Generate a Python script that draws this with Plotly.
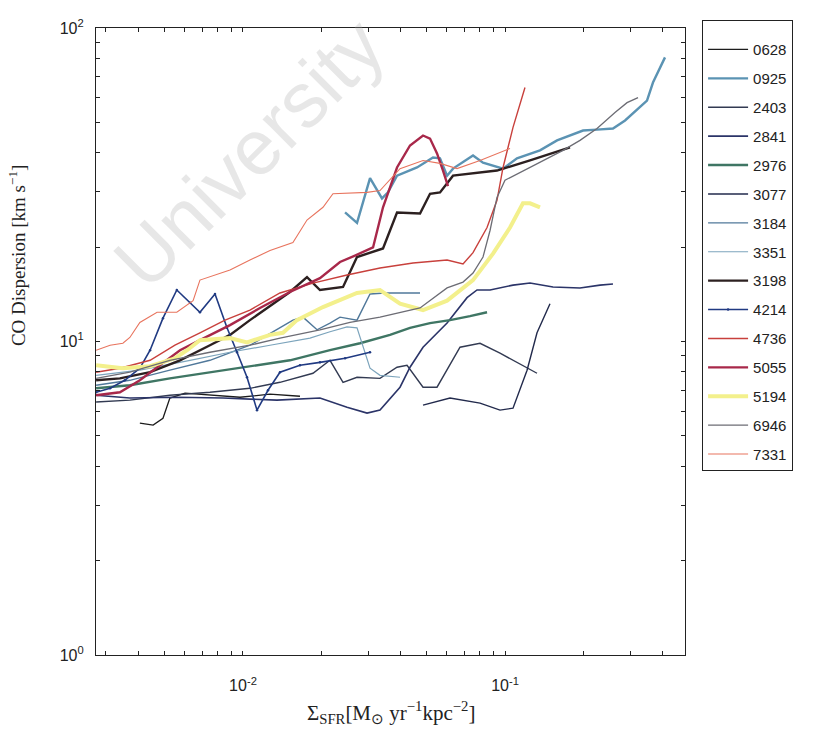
import plotly.graph_objects as go

# Galaxy IDs in legend order
galaxies = ["0628", "0925", "2403", "2841", "2976", "3077", "3184", "3351",
            "3198", "4214", "4736", "5055", "5194", "6946", "7331"]

# Star-formation-rate surface density [Msun yr^-1 kpc^-2] and CO dispersion [km/s]
sfr_0628 = [0.00404, 0.00454, 0.00495, 0.00526, 0.00601, 0.00748, 0.00974, 0.01268, 0.01650]
sig_0628 = [5.49, 5.41, 5.69, 6.60, 6.84, 6.74, 6.64, 6.79, 6.69]

sfr_0925 = [0.02452, 0.02724, 0.03054, 0.03393, 0.03576, 0.03872, 0.04616, 0.05312, 0.05649,
            0.0601, 0.06333, 0.0755, 0.08243, 0.0983, 0.1111, 0.1360, 0.1580, 0.1985,
            0.2245, 0.2583, 0.2872, 0.3275, 0.3483, 0.3671, 0.408]
sig_0925 = [25.8, 23.9, 33.2, 28.6, 29.9, 33.8, 35.9, 38.6, 38.4, 33.8, 35.6, 39.2, 37.2,
            35.6, 38.4, 40.7, 43.8, 47.1, 47.4, 47.8, 50.7, 55.8, 58.7, 67.0, 80.6]

sfr_2403 = [0.00275, 0.00370, 0.00526, 0.00748, 0.01063, 0.01384, 0.0185, 0.02148, 0.02409,
            0.02724, 0.03334, 0.03872, 0.04228, 0.04866, 0.05503, 0.06735, 0.08029, 0.0957, 0.1325]
sig_2403 = [6.41, 6.50, 6.74, 6.89, 7.09, 7.41, 7.92, 8.71, 7.41, 7.69, 7.63, 8.28, 8.40,
            7.15, 7.15, 9.59, 9.87, 9.18, 7.92]

sfr_2841 = [0.00275, 0.00370, 0.00559, 0.00839, 0.01348, 0.01967, 0.02495, 0.02975, 0.03334,
            0.03975, 0.04340, 0.04866, 0.0601, 0.07163, 0.0782, 0.08767, 0.1073, 0.1246,
            0.1525, 0.1933, 0.2305, 0.2583]
sig_2841 = [6.74, 6.60, 6.64, 6.60, 6.50, 6.60, 6.17, 5.91, 6.04, 7.15, 8.28, 9.59, 11.45,
            13.8, 14.6, 14.6, 15.13, 15.36, 14.93, 14.82, 15.13, 15.25]

sfr_2976 = [0.00275, 0.00370, 0.00526, 0.00748, 0.01063, 0.01511, 0.02148, 0.02797, 0.03640,
            0.04340, 0.05174, 0.06168, 0.07353, 0.0854]
sig_2976 = [7.09, 7.25, 7.63, 7.98, 8.34, 8.71, 9.38, 9.87, 10.5, 11.06, 11.45, 11.7, 12.05, 12.4]

sfr_3077 = [0.04866, 0.06168, 0.08029, 0.0957, 0.1073, 0.1214, 0.1325, 0.1485]
sig_3077 = [6.27, 6.60, 6.36, 6.04, 6.13, 8.10, 10.66, 13.2]

sfr_3184 = [0.00275, 0.00370, 0.00526, 0.00748, 0.01063, 0.01384, 0.01551, 0.01694, 0.01917,
            0.02148, 0.02346, 0.02724, 0.03054, 0.03484, 0.04739]
sig_3184 = [7.25, 7.52, 8.10, 8.71, 9.73, 11.06, 11.7, 11.96, 10.9, 11.45, 11.96, 11.7,
            14.18, 14.28, 14.28]

sfr_3351 = [0.00275, 0.00404, 0.00628, 0.00892, 0.01268, 0.01802, 0.02148, 0.02495, 0.02724,
            0.03054, 0.03334, 0.03975]
sig_3351 = [7.80, 8.10, 8.71, 9.24, 9.73, 10.25, 10.74, 11.14, 11.06, 8.22, 7.80, 7.69]

sfr_3198 = [0.00275, 0.00339, 0.00442, 0.00575, 0.00748, 0.00892, 0.01063, 0.01268, 0.01511,
            0.01755, 0.01967, 0.02409, 0.02724, 0.03423, 0.03872, 0.04739, 0.05174, 0.05649,
            0.06333, 0.0932, 0.1246, 0.1771]
sig_3198 = [7.52, 7.63, 7.98, 8.71, 9.73, 10.5, 11.7, 13.0, 14.39, 16.05, 14.6, 14.93, 18.6,
            19.8, 25.8, 25.6, 29.6, 29.9, 33.8, 35.1, 37.8, 41.6]

sfr_4214 = [0.00275, 0.00311, 0.00354, 0.00404, 0.00442, 0.00495, 0.00559, 0.00628, 0.00685,
            0.00782, 0.00869, 0.00949, 0.01036, 0.01131, 0.01246, 0.01384, 0.01650, 0.01967,
            0.02452, 0.03054]
sig_4214 = [6.89, 7.09, 7.52, 8.22, 9.38, 11.87, 14.6, 13.3, 12.4, 14.18, 11.06, 9.24, 7.69,
            6.04, 6.99, 7.98, 8.40, 8.58, 8.84, 9.24]

sfr_4736 = [0.00275, 0.00339, 0.00442, 0.00550, 0.00685, 0.00854, 0.01063, 0.01384, 0.0185,
            0.02495, 0.03334, 0.04456, 0.0601, 0.06915, 0.0755, 0.0854, 0.0932, 0.0983,
            0.1073, 0.1192]
sig_4736 = [7.98, 8.22, 8.71, 9.73, 10.66, 11.7, 12.6, 14.28, 15.36, 16.3, 17.15, 17.8, 18.2,
            17.67, 19.2, 23.1, 28.2, 35.9, 48.2, 64.6]

sfr_5055 = [0.00275, 0.00339, 0.00404, 0.00482, 0.00575, 0.00685, 0.00892, 0.01161, 0.01511,
            0.01967, 0.02346, 0.02676, 0.03136, 0.03423, 0.03872, 0.04340, 0.04866, 0.05174,
            0.05503, 0.0580, 0.0606]
sig_5055 = [6.74, 6.89, 7.52, 8.40, 9.38, 10.1, 11.28, 12.79, 14.39, 15.93, 17.93, 18.8,
            19.95, 26.8, 35.9, 42.2, 45.4, 44.4, 39.8, 35.1, 31.3]

sfr_5194 = [0.00275, 0.00348, 0.00442, 0.00550, 0.00612, 0.00685, 0.00892, 0.01036, 0.01268,
            0.01421, 0.01607, 0.02020, 0.02724, 0.03334, 0.03975, 0.04866, 0.0601, 0.0755,
            0.09001, 0.1045, 0.1171, 0.1246, 0.1360]
sig_5194 = [8.40, 8.22, 8.34, 8.84, 9.38, 10.1, 10.25, 9.94, 10.5, 10.66, 11.7, 12.88, 14.28,
            14.6, 13.2, 12.6, 13.5, 15.7, 19.07, 23.1, 27.6, 27.6, 26.8]

sfr_6946 = [0.00275, 0.00370, 0.00526, 0.00748, 0.01063, 0.01384, 0.01967, 0.02561, 0.03334,
            0.03975, 0.04739, 0.0601, 0.06915, 0.0755, 0.08243, 0.08767, 0.0932, 0.1000,
            0.1246, 0.1665, 0.1933, 0.2245, 0.2629, 0.2923, 0.3219]
sig_6946 = [7.63, 7.98, 8.71, 9.24, 9.73, 10.25, 10.9, 11.5, 11.96, 12.4, 12.79, 14.82, 15.47,
            16.53, 18.6, 22.6, 28.8, 32.7, 35.9, 40.7, 43.8, 47.8, 53.8, 57.8, 60.0]

sfr_7331 = [0.00275, 0.00311, 0.00348, 0.00370, 0.00404, 0.00470, 0.00559, 0.00645, 0.00685,
            0.00892, 0.01063, 0.01268, 0.01551, 0.01755, 0.02020, 0.02205, 0.02975, 0.03334,
            0.03975, 0.04866, 0.05649, 0.0656, 0.08029, 0.1045]
sig_7331 = [9.38, 9.73, 9.87, 10.3, 11.5, 12.4, 12.4, 13.5, 15.7, 16.9, 18.2, 19.5, 20.7,
            24.4, 26.8, 29.6, 29.9, 30.3, 35.6, 37.8, 37.0, 35.6, 37.8, 41.3]

series_x = [sfr_0628, sfr_0925, sfr_2403, sfr_2841, sfr_2976, sfr_3077, sfr_3184, sfr_3351,
            sfr_3198, sfr_4214, sfr_4736, sfr_5055, sfr_5194, sfr_6946, sfr_7331]
series_y = [sig_0628, sig_0925, sig_2403, sig_2841, sig_2976, sig_3077, sig_3184, sig_3351,
            sig_3198, sig_4214, sig_4736, sig_5055, sig_5194, sig_6946, sig_7331]

colors = ["#1c1c1c", "#5b93b3", "#323a52", "#2b3468", "#3f7664", "#222a4c", "#50789a",
          "#7ca4bc", "#2c2020", "#203a82", "#c8403c", "#a8284a", "#f3f08c", "#6c6c74", "#e8745e"]
widths = [1.3, 2.4, 1.4, 1.6, 2.4, 1.4, 1.4, 1.2, 2.4, 1.6, 1.4, 2.4, 4.0, 1.3, 1.1]

# Axis ticks: decades labelled, 2..9 unlabelled
xtickvals, xticktext = [], []
for e in (-3, -2, -1):
    for m in range(1, 10):
        v = m * 10.0 ** e
        if 0.00274 <= v <= 0.49:
            xtickvals.append(v)
            xticktext.append(f"10<sup>{e}</sup>" if m == 1 else "")
ytickvals, yticktext = [], []
for e in (0, 1, 2):
    for m in range(1, 10):
        v = m * 10.0 ** e
        if v <= 100:
            ytickvals.append(v)
            yticktext.append(f"10<sup>{e}</sup>" if m == 1 else "")

fig = go.Figure()
for i, name in enumerate(galaxies):
    mode = "lines+markers" if name == "4214" else "lines"
    fig.add_trace(go.Scatter(
        x=series_x[i], y=series_y[i], name=name, mode=mode,
        legendgroup=name,
        line=dict(color=colors[i], width=widths[i]),
        marker=dict(size=2.5, color=colors[i]),
    ))

axis_common = dict(
    type="log", showgrid=False, zeroline=False, showline=True, linecolor="#222",
    linewidth=1.2, mirror="ticks", ticks="inside", ticklen=4, tickcolor="#222",
    tickfont=dict(family="Liberation Sans, Arial", size=16, color="#222"),
)
fig.update_xaxes(range=[-2.561, -0.313], tickvals=xtickvals, ticktext=xticktext,
                 ticklabelstandoff=16, **axis_common)
fig.update_yaxes(range=[0, 2], tickvals=ytickvals, ticktext=yticktext,
                 ticklabelstandoff=8, **axis_common)

fig.add_annotation(
    text="CO Dispersion [km s<sup>\u22121</sup>]", textangle=-90,
    xref="paper", yref="paper", x=-0.135, y=0.637, showarrow=False,
    xanchor="center", yanchor="middle",
    font=dict(family="Liberation Serif, Times New Roman", size=19, color="#222"),
)
fig.add_annotation(
    text="\u03a3<sub>SFR</sub>[M<sub>\u2299</sub> yr<sup>\u22121</sup>kpc<sup>\u22122</sup>]",
    xref="paper", yref="paper", x=0.5, y=-0.091, showarrow=False,
    xanchor="center", yanchor="middle",
    font=dict(family="Liberation Serif, Times New Roman", size=21, color="#222"),
)
fig.add_annotation(
    text="University", textangle=-45,
    xref="paper", yref="paper", x=0.26, y=0.80, showarrow=False,
    xanchor="center", yanchor="middle",
    font=dict(family="Liberation Sans, Arial", size=78, color="rgba(170,170,170,0.28)"),
)

fig.update_layout(
    width=831, height=729,
    margin=dict(l=96, r=146, t=28, b=74),
    paper_bgcolor="white", plot_bgcolor="white",
    legend=dict(
        x=1.029, y=1.012, xanchor="left", yanchor="top",
        bordercolor="#222", borderwidth=1, bgcolor="white",
        font=dict(family="Liberation Sans, Arial", size=15, color="#222"),
        title=dict(text=" ", font=dict(size=9)),
        tracegroupgap=6.4, traceorder="grouped", itemwidth=40,
        maxheight=700,
    ),
    showlegend=True,
)

fig.write_html("out.html")
